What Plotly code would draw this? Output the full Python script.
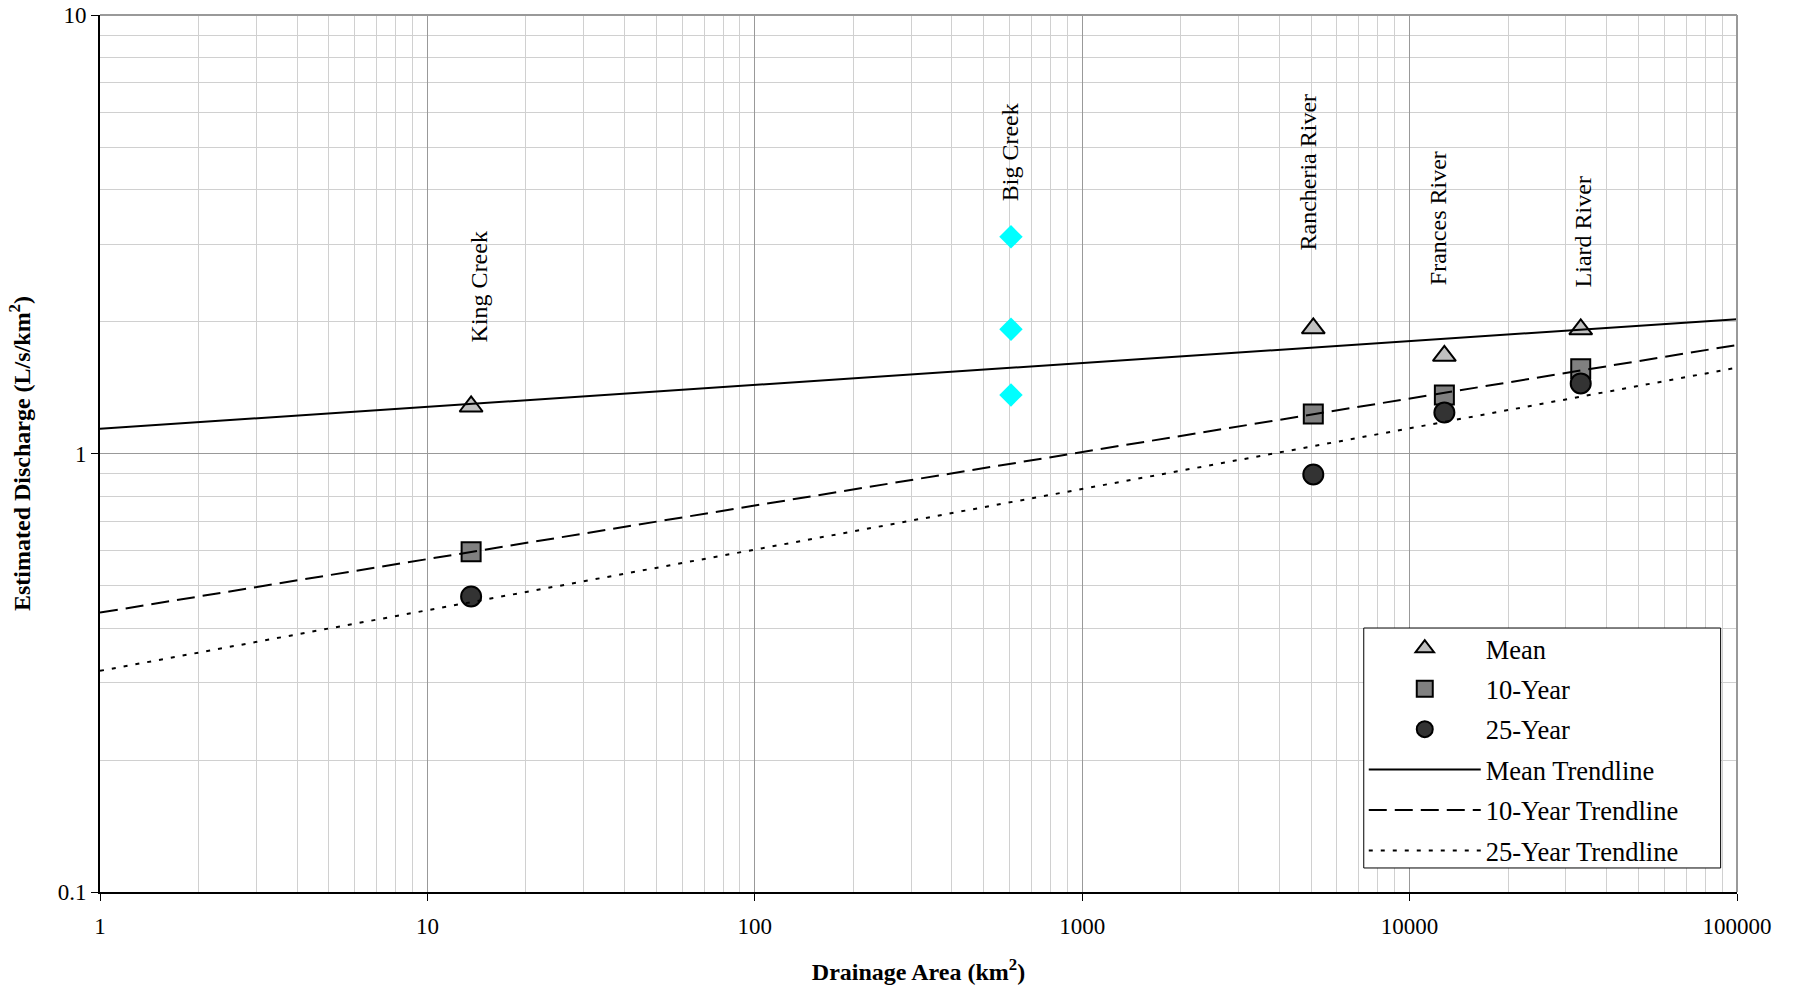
import numpy as np
import plotly.graph_objects as go

# ---- data ----
stations = ["King Creek", "Rancheria River", "Frances River", "Liard River"]
area = [13.6, 5080, 12770, 33320]
mean_q = [1.28, 1.93, 1.67, 1.92]
q10 = [0.597, 1.23, 1.36, 1.56]
q25 = [0.472, 0.896, 1.24, 1.445]

big_creek_name = "Big Creek"
big_creek_area = [606, 606, 606]
big_creek_q = [3.12, 1.92, 1.36]

x_ticks = [1, 10, 100, 1000, 10000, 100000]
x_tick_text = ["1", "10", "100", "1000", "10000", "100000"]
y_ticks = [0.1, 1, 10]
y_tick_text = ["0.1", "1", "10"]

# label placement (not data)
label_names = ["King Creek", "Big Creek", "Rancheria River", "Frances River", "Liard River"]
label_x = [13.6, 606, 5080, 12770, 33320]
label_ybottom = [1.77, 3.72, 2.87, 2.40, 2.37]
label_xshift = [8, -1, -5, -7, 2]

FONT = "Liberation Serif"


def power_fit(x, y):
    lx, ly = np.log10(x), np.log10(y)
    b, a = np.polyfit(lx, ly, 1)
    return a, b


xr = np.array([1.0, 100000.0])

fig = go.Figure()

fits = {}
for name, ys in [("Mean", mean_q), ("10-Year", q10), ("25-Year", q25)]:
    fits[name] = power_fit(area, ys)

marker_line = dict(color="black", width=2)
fig.add_trace(go.Scatter(x=area, y=mean_q, mode="markers", name="Mean",
                         legendgroup="a",
                         marker=dict(symbol="triangle-up", size=20, color="#c0c0c0", line=marker_line)))
fig.add_trace(go.Scatter(x=area, y=q10, mode="markers", name="10-Year",
                         legendgroup="b",
                         marker=dict(symbol="square", size=19, color="#808080", line=marker_line)))
fig.add_trace(go.Scatter(x=area, y=q25, mode="markers", name="25-Year",
                         legendgroup="c",
                         marker=dict(symbol="circle", size=20, color="#333333", line=marker_line)))

styles = [("Mean", "solid", "d"), ("10-Year", "18px,8px", "e"), ("25-Year", "4px,8px", "f")]
for name, dash, grp in styles:
    a, b = fits[name]
    yline = 10 ** (a + b * np.log10(xr))
    fig.add_trace(go.Scatter(x=xr, y=yline, mode="lines", name=name + " Trendline",
                             legendgroup=grp,
                             line=dict(color="black", width=2, dash=dash)))

fig.add_trace(go.Scatter(x=big_creek_area, y=big_creek_q, mode="markers", name=big_creek_name,
                         showlegend=False,
                         marker=dict(symbol="diamond", size=18, color="#00ffff", line=dict(width=0))))

for nm, lx, ly, xs in zip(label_names, label_x, label_ybottom, label_xshift):
    fig.add_annotation(x=np.log10(lx), y=np.log10(ly), text=nm, textangle=-90,
                       showarrow=False, xanchor="center", yanchor="bottom", xshift=xs,
                       font=dict(family=FONT, size=24, color="black"))

fig.update_xaxes(type="log", range=[0, 5], tickvals=x_ticks, ticktext=x_tick_text,
                 showgrid=True, gridcolor="#999999", gridwidth=1,
                 minor=dict(dtick="D1", showgrid=True, gridcolor="#d0d0d0", ticks=""),
                 showline=True, linecolor="black", linewidth=2,
                 ticks="outside", ticklen=7, tickcolor="black", ticklabelstandoff=5,
                 tickfont=dict(family=FONT, size=23, color="black"),
                 title=dict(text="<b>Drainage Area (km<sup>2</sup>)</b>", standoff=26,
                            font=dict(family=FONT, size=24, color="black")),
                 zeroline=False)
fig.update_yaxes(type="log", range=[-1, 1], tickvals=y_ticks, ticktext=y_tick_text,
                 showgrid=True, gridcolor="#999999", gridwidth=1,
                 minor=dict(dtick="D1", showgrid=True, gridcolor="#d0d0d0", ticks=""),
                 showline=True, linecolor="black", linewidth=2,
                 ticks="outside", ticklen=7, tickcolor="black",
                 tickfont=dict(family=FONT, size=23, color="black"),
                 title=dict(text="<b>Estimated Discharge (L/s/km<sup>2</sup>)</b>", standoff=20,
                            font=dict(family=FONT, size=24, color="black")),
                 zeroline=False)

# top / right frame in grey
fig.add_shape(type="line", xref="paper", yref="paper", x0=0, x1=1, y0=1, y1=1,
              line=dict(color="#999999", width=2))
fig.add_shape(type="line", xref="paper", yref="paper", x0=1, x1=1, y0=0, y1=1,
              line=dict(color="#999999", width=2))
# legend box
fig.add_shape(type="rect", xref="paper", yref="paper", x0=0.772, x1=0.990, y0=0.0274, y1=0.301,
              line=dict(color="black", width=1), fillcolor="white", layer="above")

fig.update_layout(
    width=1793, height=989,
    margin=dict(l=100, r=56, t=15, b=97, autoexpand=False),
    plot_bgcolor="white", paper_bgcolor="white",
    font=dict(family=FONT, size=22, color="black"),
    legend=dict(x=0.772, y=0.305, xanchor="left", yanchor="top",
                bgcolor="rgba(0,0,0,0)", borderwidth=0,
                tracegroupgap=3, itemwidth=112,
                font=dict(family=FONT, size=26.5, color="black")),
    showlegend=True,
)

fig.write_html("out.html", config={"displayModeBar": False},
               post_script="document.body.style.margin='0px';document.body.style.overflow='hidden';")
